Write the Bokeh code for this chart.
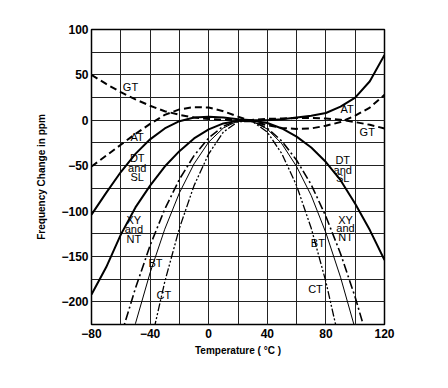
from bokeh.plotting import figure
from bokeh.models import FixedTicker, Range1d
from bokeh.core.properties import value
from bokeh.embed import file_html
from bokeh.resources import INLINE

# ---- data ----
temps = [-80, -70, -60, -50, -40, -30, -20, -10, 0, 10, 20, 30, 40, 50, 60, 70, 80, 90, 100, 110, 120]
at_solid = [-104, -80, -57, -37, -21, -9, -1, 3, 4, 3, 1, 0, 0, 1, 3, 5, 8, 15, 25, 43, 72]
at_dashed = [-51, -39, -27, -15, -4, 6, 12, 14.5, 14, 10, 4, -1.5, -5.5, -8.5, -9.5, -9, -6, -2, 5, 14, 28]
gt = [50, 40, 31, 23, 16, 10, 6, 3, 1.5, 0.5, 0, 0.5, 1.5, 2, 2.5, 2.5, 2, 0.5, -2, -5, -9]
dt_xy = [-192, -162, -126, -96, -72, -51, -34, -20, -10, -3.5, -0.5, -0.5, -3, -9, -18, -30, -46, -66, -92, -121, -154]

dd_temps = [-60, -50, -40, -30, -20, -10, 0, 10, 20, 30, 40, 50, 60, 70, 80, 90, 100, 110]
dd_vals = [-238, -185, -138, -98, -65, -39, -19.5, -6.5, -0.5, -1.2, -8.7, -23, -44, -71, -106, -147, -195, -250]

bt_temps = [-60, -50, -40, -30, -20, -10, 0, 10, 20, 30, 40, 50, 60, 70, 80, 90, 100]
bt_vals = [-288, -224, -168, -120, -80, -48, -24, -8.5, -0.8, -1.2, -9.7, -26, -51, -83, -124, -173, -230]

ct_temps = [-40, -30, -20, -10, 0, 10, 20, 30, 40, 50, 60, 70, 80, 90]
ct_vals = [-249, -178, -119, -72, -37, -13, -1.5, -1.5, -13, -37, -72, -119, -178, -249]

x_ticks = [-80, -40, 0, 40, 80, 120]
x_tick_labels = ["\u221280", "\u221240", "0", "40", "80", "120"]
x_minor = [-80, -60, -40, -20, 0, 20, 40, 60, 80, 100, 120]
y_ticks = [-200, -150, -100, -50, 0, 50, 100]
y_tick_labels = ["\u2212200", "\u2212150", "\u2212100", "\u221250", "0", "50", "100"]
y_minor = [-225, -200, -175, -150, -125, -100, -75, -50, -25, 0, 25, 50, 75, 100]

lab_text = ["GT", "AT", "DT", "and", "SL", "XY", "and", "NT", "BT", "CT",
            "AT", "GT", "DT", "and", "SL", "XY", "and", "NT", "BT", "CT"]
lab_x = [-53.4, -48.8, -48.8, -48.8, -48.8, -51.1, -51.1, -51.1, -36.3, -30.6,
         94.5, 108.2, 91.5, 91.5, 91.5, 93.4, 93.4, 93.4, 74.5, 72.9]
lab_y = [36.7, -18.4, -42, -52.6, -62.5, -109.5, -119.4, -130.4, -157, -193,
         12.9, -12.9, -44, -54.5, -64, -110, -119, -128.7, -135, -185.4]

# ---- figure ----
p = figure(width=440, height=380, x_range=Range1d(-80, 120), y_range=Range1d(-225, 100),
           output_backend="svg", toolbar_location=None,
           min_border_left=91, min_border_right=56, min_border_top=29, min_border_bottom=56)
p.background_fill_color = "white"
p.border_fill_color = "white"
p.outline_line_color = "black"
p.outline_line_width = 1.5

p.xaxis.ticker = FixedTicker(ticks=x_ticks, minor_ticks=x_minor)
p.yaxis.ticker = FixedTicker(ticks=y_ticks, minor_ticks=y_minor)
p.xaxis.major_label_overrides = dict(zip(x_ticks, x_tick_labels))
p.yaxis.major_label_overrides = dict(zip(y_ticks, y_tick_labels))

for g in (p.xgrid, p.ygrid):
    g.grid_line_color = "#222222"
    g.grid_line_width = 1
    g.minor_grid_line_color = "#222222"
    g.minor_grid_line_width = 1

for ax in p.axis:
    ax.axis_line_color = None
    ax.major_tick_line_color = None
    ax.minor_tick_line_color = None
    ax.major_tick_out = 0
    ax.major_tick_in = 0
    ax.minor_tick_out = 0
    ax.minor_tick_in = 0
    ax.major_label_text_font = "Liberation Sans"
    ax.major_label_text_font_style = "bold"
    ax.major_label_text_font_size = "12px"
    ax.major_label_text_color = "black"
    ax.axis_label_text_font = "Liberation Sans"
    ax.axis_label_text_font_style = "bold"
    ax.axis_label_text_font_size = "10px"
    ax.axis_label_text_color = "black"

p.xaxis.major_label_standoff = 4
p.yaxis.major_label_standoff = 3
p.xaxis.axis_label = "Temperature ( \u00b0C )"
p.yaxis.axis_label = "Frequency Change in ppm"
p.xaxis.axis_label_standoff = 4
p.yaxis.axis_label_standoff = 11

# ---- curves ----
p.line(temps, at_solid, line_color="black", line_width=2)
p.line(temps, at_dashed, line_color="black", line_width=2, line_dash="7 4")
p.line(temps, gt, line_color="black", line_width=2, line_dash="7 4")
p.line(temps, dt_xy, line_color="black", line_width=2)
p.line(dd_temps, dd_vals, line_color="black", line_width=1.6, line_dash="9 3 2 3")
p.line(bt_temps, bt_vals, line_color="black", line_width=1)
p.line(ct_temps, ct_vals, line_color="black", line_width=1.3, line_dash="8 2 2 2 2 2")

p.text(x=lab_x, y=lab_y, text=lab_text, text_font=value("Liberation Sans"),
       text_font_size="11px", text_align="center", text_baseline="middle",
       text_color="black")

open("out.html", "w").write(file_html(p, INLINE))
